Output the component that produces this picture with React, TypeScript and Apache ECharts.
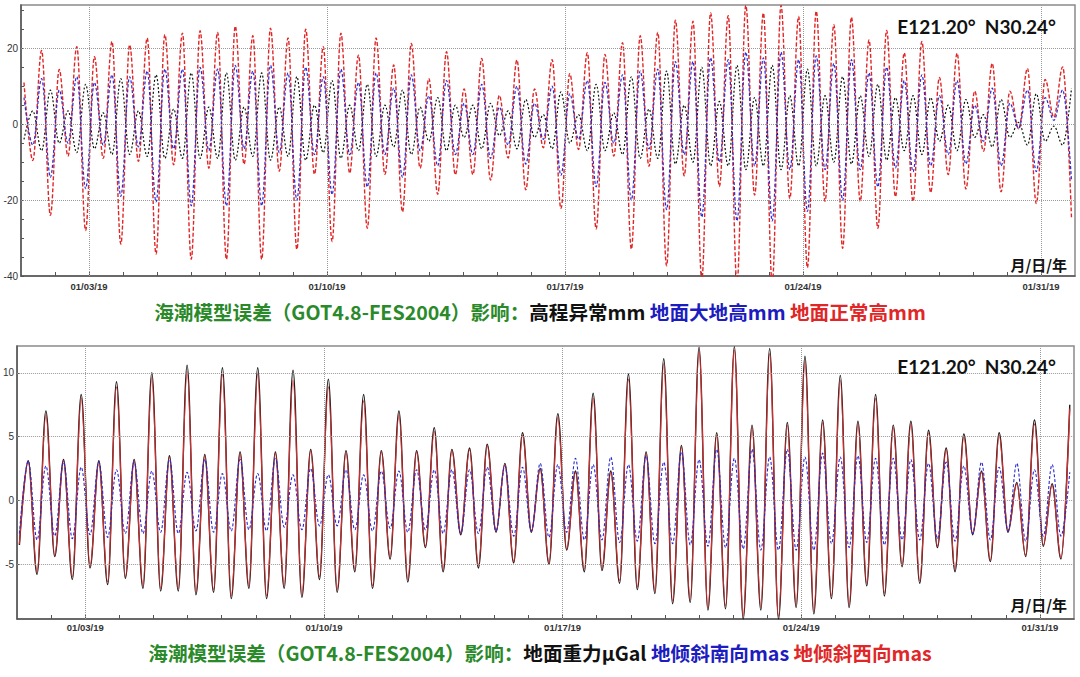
import React, { useEffect, useRef } from "react";
import * as echarts from "echarts";

// ---------- shared time axis (days since 2019-01-01 00:00) ----------
const dateLabels = ["01/03/19", "01/10/19", "01/17/19", "01/24/19", "01/31/19"];
const dateLabelDays = [2, 9, 16, 23, 30];
const dayTicks = [1, 2, 3, 4, 5, 6, 7, 8, 9, 10, 11, 12, 13, 14, 15, 16, 17, 18, 19, 20, 21, 22, 23, 24, 25, 26, 27, 28, 29, 30];

// extreme values (alternating high / low water) every half lunar tide
const extremeStepDays = 0.2589;
const topFirstExtremeDay = 0.088;
const bottomFirstExtremeDay = 0.067;

// ---------- top panel: mm ----------
const topHeightAnomaly = [ // 高程异常 (black)
  -4, 3.5, -7, 9, -5, 3.5, -7.5, 10.5, -6.5, 3,
  -8, 12, -8, 3.5, -8.5, 13, -9, 4, -9, 13.5,
  -9, 4.5, -9, 13.5, -9.5, 4.5, -8.5, 13.5, -9.5, 4.5,
  -8.5, 12.5, -9.5, 5, -7.5, 11.5, -9, 5, -7, 10.5,
  -8.5, 5, -6, 9, -8, 4.5, -4.5, 7, -7, 5,
  -3.5, 5, -6.5, 5.5, -3, 3.5, -6.5, 6.5, -3.5, 2.5,
  -6.5, 8.5, -5, 2.5, -7, 10.5, -7, 3, -8, 12.5,
  -9, 4, -9, 14, -10.5, 5, -10, 15, -11, 6,
  -11, 15.5, -12, 7, -11, 15.5, -12, 7.5, -11, 14.5,
  -11, 7.5, -10, 12.5, -10.5, 7.5, -8.5, 10.5, -9.5, 7,
  -7, 7.5, -8, 7, -4.5, 5, -7, 6.5, -3.5, 2.5,
  -6, 6.5, -3.5, 0.5, -5.5, 8, -4.5, -0.5, -5.5, 9.5,
];
const topGeodeticHeight = [ // 地面大地高 (blue)
  7, -5.5, 12, -14, 9, -5, 12.5, -17, 11, -5.5,
  13, -19, 12.5, -6, 14, -20.5, 14.5, -6.5, 14.5, -21.5,
  15, -7, 14.5, -21.5, 15.5, -6.5, 14, -21.5, 15.5, -7.5,
  13.5, -20, 15, -8, 12.5, -18.5, 14.5, -8, 11, -16.5,
  13.5, -8, 9.5, -14, 13, -7, 7.5, -11, 11.5, -8,
  5.5, -8, 10.5, -9, 4.5, -5.5, 10, -10.5, 5.5, -4,
  10, -13.5, 8, -4, 11.5, -16.5, 11, -5, 13, -20,
  14, -6.5, 14.5, -22.5, 16.5, -8, 16.5, -24.5, 17.5, -10,
  17, -25.5, 19, -11, 17.5, -25.5, 19, -12, 17, -23,
  18, -12, 16, -20, 17, -12, 13.5, -16.5, 15, -11.5,
  11.5, -12.5, 13, -11, 7.5, -8, 11.5, -10.5, 5, -4.5,
  9.5, -11, 5.5, -1, 9, -12.5, 7, 1, 9, -15,
];
const topNormalHeight = [ // 地面正常高 (red)
  11, -9.6, 19.4, -24, 14.4, -8.4, 20.4, -28, 17.8, -9,
  21.8, -31.6, 20.9, -9.8, 22.7, -34.2, 23.6, -10.7, 24, -35.6,
  24.6, -11.6, 24.2, -35.6, 25.8, -10.5, 23.3, -35.6, 25.3, -12.4,
  22.7, -33, 25, -13.2, 20.4, -30.9, 24, -12.9, 18.2, -27.4,
  22.7, -13.2, 15.6, -23.1, 21.3, -11.6, 12, -18.5, 19.1, -13.3,
  9.3, -13.3, 17.3, -14.7, 7.6, -8.9, 16.9, -17.3, 9.3, -6.2,
  17, -22.2, 13.3, -6.7, 18.8, -27.6, 18.4, -8.4, 21.5, -32.9,
  23.3, -11.1, 24.2, -37.3, 27.4, -13.6, 27.1, -41, 29.3, -16.4,
  28.6, -42, 31.3, -18.7, 29.3, -42, 31.3, -19.6, 28.4, -37.8,
  29.8, -20.3, 26.2, -32.7, 28.2, -20.3, 22.2, -27.4, 24.7, -19.1,
  18.8, -20.4, 21.8, -18, 12.3, -13.3, 18.7, -17.1, 8.7, -7.1,
  16, -17.8, 8.7, -1.3, 14.7, -20.9, 11.8, 1.8, 15.1, -24.7,
];
const topYLabels = [-40, -20, 0, 20];
const topYTicks = [-40, -35, -30, -25, -20, -15, -10, -5, 0, 5, 10, 15, 20, 25, 30];
const topGridLines = [-20, 0, 20];

// ---------- bottom panel: μGal / mas ----------
const bottomGravity = [ // 地面重力 (black)
  -3.5, 3.1, -5.8, 7.0, -4.4, 3.2, -6.2, 8.3, -5.3, 3.1,
  -6.6, 9.3, -6.1, 3.2, -6.9, 10.0, -7.1, 3.5, -7.1, 10.6,
  -7.4, 3.6, -7.2, 10.4, -7.7, 3.8, -6.9, 10.4, -7.7, 3.8,
  -6.9, 10.2, -7.6, 4.0, -6.2, 9.5, -7.2, 3.9, -5.6, 8.3,
  -6.9, 3.9, -4.6, 7.0, -6.4, 3.9, -3.7, 5.7, -5.6, 4.0,
  -2.7, 4.1, -5.3, 4.4, -2.5, 2.9, -4.9, 5.3, -2.5, 2.5,
  -5.0, 6.8, -3.9, 2.3, -5.6, 8.4, -5.5, 2.3, -6.5, 9.9,
  -7.0, 3.8, -7.3, 11.1, -8.1, 4.3, -8.0, 12.0, -8.6, 5.3,
  -8.5, 12.05, -9.3, 5.9, -8.6, 11.9, -9.3, 6.1, -8.4, 11.3,
  -8.9, 6.3, -7.7, 9.8, -8.4, 6.2, -6.7, 8.3, -7.5, 5.9,
  -5.2, 6.2, -6.5, 5.5, -3.7, 4.1, -5.6, 5.2, -2.7, 2.3,
  -4.8, 5.3, -2.5, 1.4, -4.4, 6.3, -3.6, 1.3, -4.6, 7.5,
];
const bottomTiltSouth = [ // 地倾斜南向 (blue)
  -2.6, 3.1, -3.1, 2.7, -2.8, 3.0, -3.0, 2.6, -2.7, 3.0,
  -2.9, 2.4, -2.6, 3.0, -2.6, 2.3, -2.5, 3.2, -2.6, 2.2,
  -2.4, 3.2, -2.5, 2.1, -2.4, 3.2, -2.3, 2.1, -2.4, 3.3,
  -2.1, 2.0, -2.3, 2.5, -2.0, 2.0, -2.0, 2.4, -2.3, 2.0,
  -2.4, 2.3, -2.2, 2.3, -2.5, 2.4, -2.3, 2.4, -2.6, 2.4,
  -2.6, 2.4, -2.6, 2.6, -2.4, 2.7, -2.8, 2.6, -2.4, 2.9,
  -2.9, 2.8, -2.5, 3.3, -3.1, 2.8, -3.1, 3.4, -3.3, 2.8,
  -3.2, 3.5, -3.4, 3.0, -3.4, 3.8, -3.5, 3.2, -3.6, 4.0,
  -3.7, 3.3, -3.8, 4.0, -3.9, 3.4, -3.9, 4.0, -3.9, 3.4,
  -3.9, 3.7, -3.4, 3.4, -3.7, 3.5, -3.3, 3.3, -3.5, 3.3,
  -3.1, 3.2, -3.1, 2.9, -3.0, 3.0, -3.2, 2.7, -2.6, 3.0,
  -3.1, 2.6, -2.4, 2.9, -3.2, 2.4, -2.8, 2.8, -2.8, 2.2,
];
const bottomTiltWest = [ // 地倾斜西向 (red)
  -3.4, 3.0, -5.6, 6.7, -4.3, 3.1, -6.0, 8.0, -5.2, 3.0,
  -6.4, 8.9, -6.0, 3.1, -6.7, 9.6, -6.9, 3.4, -6.9, 10.1,
  -7.2, 3.5, -7.0, 9.9, -7.5, 3.7, -6.7, 9.9, -7.5, 3.7,
  -6.7, 9.4, -7.4, 3.9, -6.0, 8.9, -7.0, 3.8, -5.4, 7.8,
  -6.7, 3.8, -4.5, 6.7, -6.2, 3.8, -3.6, 5.4, -5.4, 3.9,
  -2.6, 4.0, -5.1, 4.3, -2.4, 2.8, -4.8, 5.1, -2.4, 2.4,
  -4.9, 6.5, -3.8, 2.2, -5.4, 8.0, -5.3, 2.2, -6.3, 9.5,
  -6.8, 3.7, -7.1, 10.7, -7.9, 4.2, -7.8, 11.7, -8.4, 5.1,
  -8.3, 11.8, -9.1, 5.7, -8.4, 11.5, -9.1, 5.9, -8.2, 10.9,
  -8.7, 6.1, -7.5, 9.4, -8.2, 6.0, -6.5, 8.0, -7.3, 5.7,
  -5.1, 6.0, -6.3, 5.3, -3.6, 4.0, -5.4, 5.0, -2.6, 2.2,
  -4.7, 5.1, -2.4, 1.3, -4.3, 6.0, -3.5, 1.2, -4.5, 7.2,
];
const bottomYLabels = [-5, 0, 5, 10];
const bottomYTicks = [-5, 0, 5, 10];
const bottomGridLines = [-5, 0, 5, 10];

const GREEN = "#2a8a2a";
const BLUE = "#1c1cc0";
const RED = "#e02626";
const BLACK = "#111111";

function toPoints(start: number, values: number[]) {
  return values.map((v, i) => [start + i * extremeStepDays, v]);
}

function gridMarkLines(yLines: number[]) {
  return {
    silent: true,
    symbol: "none",
    label: { show: false },
    lineStyle: { type: "dotted", color: "#9a9a9a", width: 1 },
    data: [
      ...yLines.map((v) => ({ yAxis: v })),
      ...dateLabelDays.map((d) => ({ xAxis: d })),
    ],
  };
}

function xAxisFor(gridIndex: number, margin: number) {
  return {
    gridIndex,
    type: "value",
    min: 0,
    max: 31,
    axisLine: { show: true, onZero: false, lineStyle: { color: "#555", width: 1.5 } },
    axisTick: { show: true, inside: true, length: 4, customValues: dayTicks, lineStyle: { color: "#555" } },
    axisLabel: {
      customValues: dateLabelDays,
      margin,
      fontSize: 9.5,
      fontWeight: "bold",
      fontFamily: "Liberation Sans",
      color: "#333",
      formatter: (v: number) => {
        const i = dateLabelDays.indexOf(Math.round(v));
        return i >= 0 ? dateLabels[i] : "";
      },
    },
    splitLine: { show: false },
  };
}

function yAxisFor(gridIndex: number, min: number, max: number, labels: number[], ticks: number[]) {
  return {
    gridIndex,
    type: "value",
    min,
    max,
    axisLine: { show: true, onZero: false, lineStyle: { color: "#555", width: 1.5 } },
    axisTick: { show: true, inside: true, length: 3, customValues: ticks, lineStyle: { color: "#555" } },
    axisLabel: {
      customValues: labels,
      margin: 3,
      fontSize: 10,
      fontFamily: "Liberation Sans",
      color: "#333",
    },
    splitLine: { show: false },
  };
}

function lineSeries(name: string, xi: number, data: number[][], color: string, width: number, dash: any, extra: any = {}) {
  return {
    name,
    type: "line",
    xAxisIndex: xi,
    yAxisIndex: xi,
    data,
    showSymbol: false,
    symbol: "none",
    smooth: 0.36,
    smoothMonotone: "x",
    clip: true,
    lineStyle: { color, width, type: dash },
    ...extra,
  };
}

export default function App() {
  const ref = useRef<HTMLDivElement>(null);

  useEffect(() => {
    document.body.style.margin = "0";
    if (!ref.current) return;
    const chart = echarts.init(ref.current, undefined, { renderer: "svg" });

    const capFont = { fontSize: 19.6, fontWeight: "bold", fontFamily: "Noto Sans CJK SC", lineHeight: 24 };
    const cornerFont = { fontSize: 19, fontWeight: "bold", fontFamily: "Lato", color: BLACK, lineHeight: 22 };

    chart.setOption({
      animation: false,
      backgroundColor: "#ffffff",
      grid: [
        { left: 21, right: 5, top: 5, height: 271, show: true, borderColor: "#8a8a8a", borderWidth: 1.5, backgroundColor: "transparent" },
        { left: 16, right: 6, top: 346, height: 273, show: true, borderColor: "#8a8a8a", borderWidth: 1.5, backgroundColor: "transparent" },
      ],
      xAxis: [xAxisFor(0, 5), xAxisFor(1, 3)],
      yAxis: [
        yAxisFor(0, -40, 31.4, topYLabels, topYTicks),
        yAxisFor(1, -9.3, 12.1, bottomYLabels, bottomYTicks),
      ],
      title: [
        {
          text: "{g|海潮模型误差（GOT4.8-FES2004）影响：}{k|高程异常mm }{b|地面大地高mm }{r|地面正常高mm}",
          left: "center",
          top: 299,
          padding: 0,
          textStyle: {
            rich: {
              g: { ...capFont, color: GREEN },
              k: { ...capFont, color: BLACK },
              b: { ...capFont, color: BLUE },
              r: { ...capFont, color: RED },
            },
          },
        },
        {
          text: "{g|海潮模型误差（GOT4.8-FES2004）影响：}{k|地面重力μGal }{b|地倾斜南向mas }{r|地倾斜西向mas}",
          left: "center",
          top: 640,
          padding: 0,
          textStyle: {
            rich: {
              g: { ...capFont, color: GREEN },
              k: { ...capFont, color: BLACK },
              b: { ...capFont, color: BLUE },
              r: { ...capFont, color: RED },
            },
          },
        },
        { text: "E121.20°  N30.24°", right: 24, top: 15, padding: 0, textStyle: cornerFont },
        { text: "E121.20°  N30.24°", right: 24, top: 355, padding: 0, textStyle: cornerFont },
        { text: "月/日/年", right: 13, top: 255, padding: 0, textStyle: { fontSize: 15, fontWeight: "bold", fontFamily: "Noto Sans CJK SC", color: BLACK, lineHeight: 18 } },
        { text: "月/日/年", right: 13, top: 595, padding: 0, textStyle: { fontSize: 15, fontWeight: "bold", fontFamily: "Noto Sans CJK SC", color: BLACK, lineHeight: 18 } },
      ],
      series: [
        lineSeries("高程异常", 0, toPoints(topFirstExtremeDay, topHeightAnomaly), "#0c160c", 1.2, [2, 2], { markLine: gridMarkLines(topGridLines) }),
        lineSeries("地面正常高", 0, toPoints(topFirstExtremeDay, topNormalHeight), RED, 1.4, [4, 2]),
        lineSeries("地面大地高", 0, toPoints(topFirstExtremeDay, topGeodeticHeight), "#2a2ad8", 1.2, [3, 2]),
        lineSeries("地面重力", 1, toPoints(bottomFirstExtremeDay, bottomGravity), "#1a1a1a", 1.4, "solid", { markLine: gridMarkLines(bottomGridLines) }),
        lineSeries("地倾斜西向", 1, toPoints(bottomFirstExtremeDay, bottomTiltWest), "#d42a2a", 1.2, "solid"),
        lineSeries("地倾斜南向", 1, toPoints(bottomFirstExtremeDay, bottomTiltSouth), "#2a2ad0", 1.1, [3, 2]),
      ],
    });

    return () => chart.dispose();
  }, []);

  return <div ref={ref} style={{ width: 1080, height: 677 }} />;
}
